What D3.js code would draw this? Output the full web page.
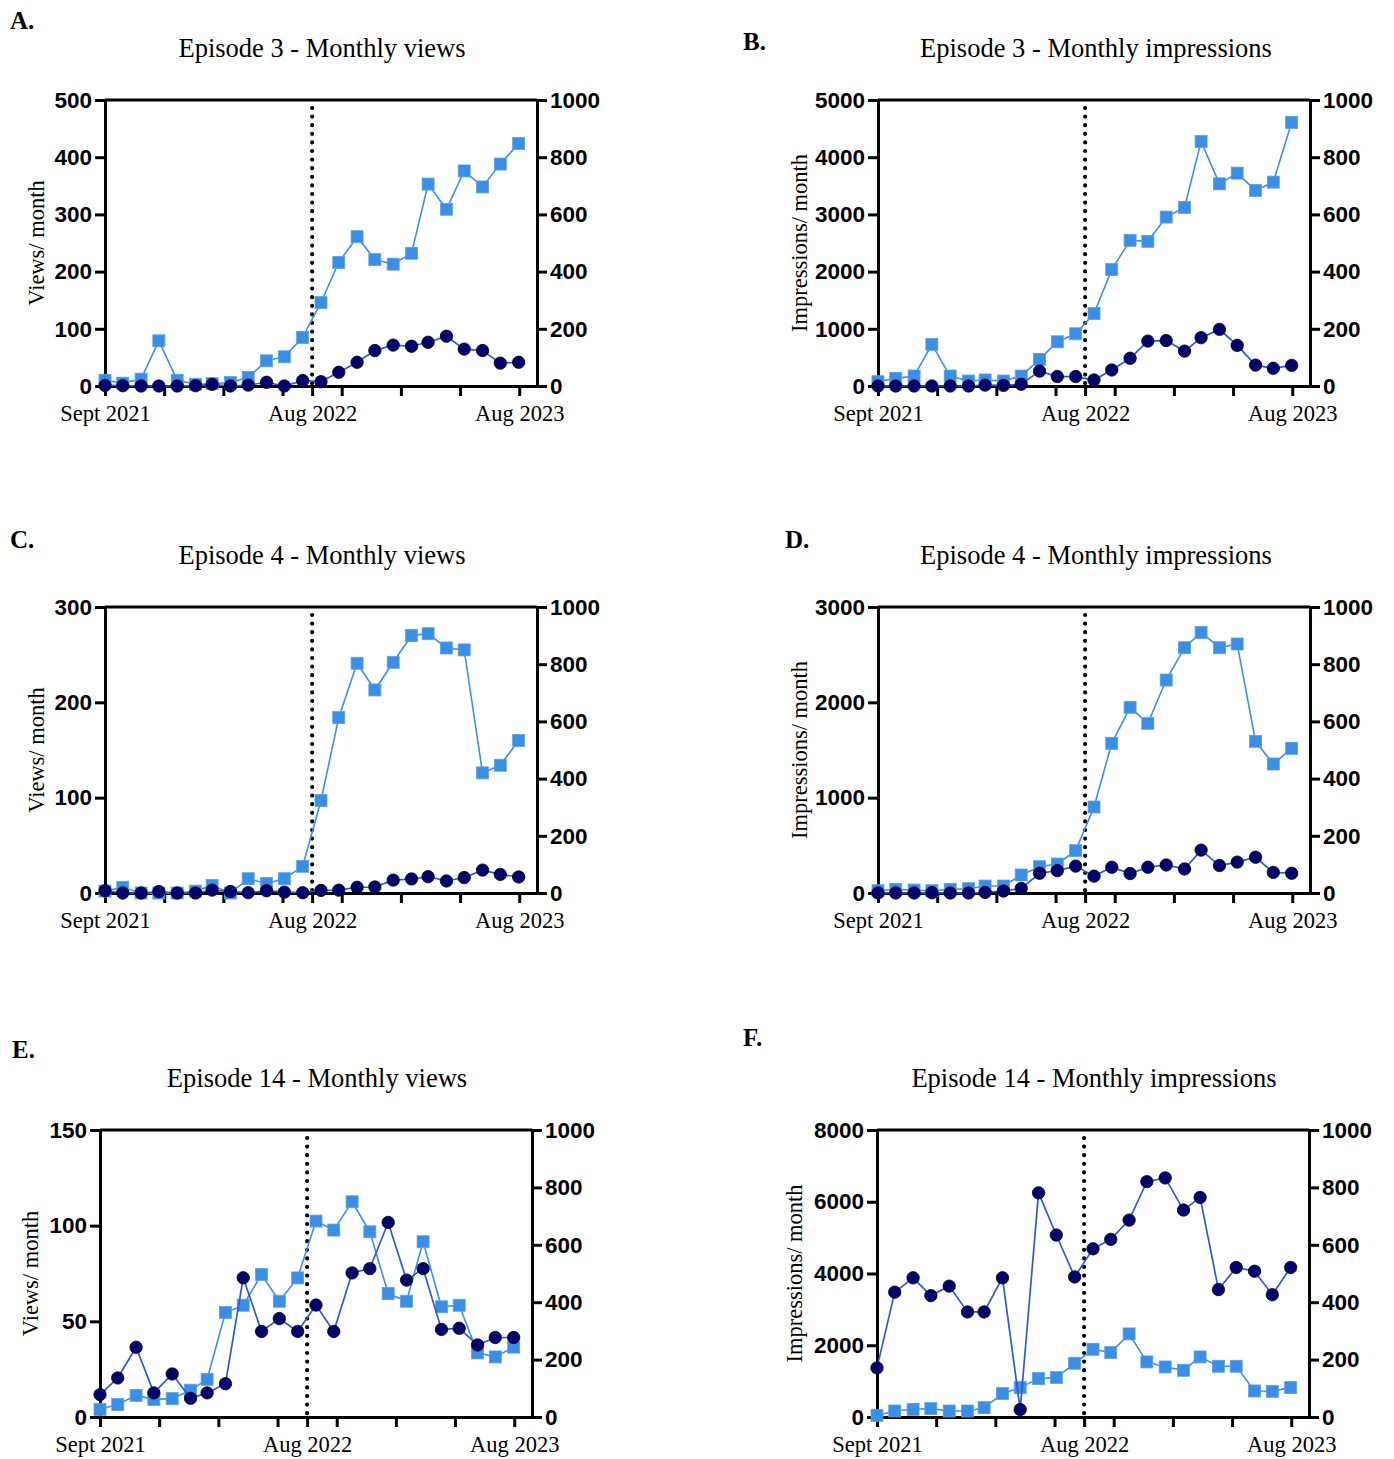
<!DOCTYPE html>
<html>
<head>
<meta charset="utf-8">
<script src="https://cdn.jsdelivr.net/npm/d3@7"></script>
<style>
  body { margin: 0; background: #fff; }
</style>
</head>
<body>
<svg id="fig" width="1394" height="1459"></svg>
<script>
// months Sept 2021 .. Aug 2023
const months = ["2021-09-01","2021-10-01","2021-11-01","2021-12-01","2022-01-01","2022-02-01",
                "2022-03-01","2022-04-01","2022-05-01","2022-06-01","2022-07-01","2022-08-01",
                "2022-09-01","2022-10-01","2022-11-01","2022-12-01","2023-01-01","2023-02-01",
                "2023-03-01","2023-04-01","2023-05-01","2023-06-01","2023-07-01","2023-08-01"];

// squares -> left axis, circles -> right axis (0-1000)
const ep3ViewsSq  = [10,5,12,79,10,3,4,6,15,44,51,85,146,216,261,221,213,232,353,309,376,348,388,424];
const ep3ViewsCi  = [2,1,0,0,0,1,6,0,3,13,0,19,15,48,83,124,143,139,153,174,129,124,80,83];
const ep3ImprSq   = [75,134,174,727,174,87,105,87,174,465,773,913,1267,2035,2547,2529,2953,3122,4273,3535,3721,3419,3564,4605];
const ep3ImprCi   = [0,0,0,0,0,0,3,2,6,52,33,33,21,56,97,157,159,122,169,198,142,73,62,72];
const ep4ViewsSq  = [2,6,0,0,0,2,8,0,15,10,15,28,97,184,241,213,242,270,272,257,255,126,134,160];
const ep4ViewsCi  = [8,0,0,5,0,0,10,5,1,8,3,1,9,10,20,21,45,49,57,42,54,80,65,56];
const ep4ImprSq   = [24,38,31,24,38,45,73,73,189,276,304,444,902,1570,1948,1780,2234,2573,2734,2573,2612,1591,1353,1517];
const ep4ImprCi   = [0,0,0,1,0,0,2,7,16,69,78,94,59,90,68,90,98,84,150,96,108,125,72,69];
const ep14ViewsSq = [4,6.5,11.3,9.2,9.6,14,19.7,54.6,58.4,74.5,60.5,72.7,102.4,97.7,112.5,96.8,64.5,60.5,91.6,57.6,58.4,33.5,31.4,36.5];
const ep14ViewsCi = [78,136,243,84,150,65,84,116,485,298,343,298,390,298,502,517,678,477,517,305,309,251,277,277];
const ep14ImprSq  = [47,167,214,233,167,167,260,651,819,1070,1098,1498,1888,1795,2316,1535,1395,1302,1674,1414,1414,726,716,819];
const ep14ImprCi  = [171,435,485,423,456,366,366,485,26,781,634,488,586,619,686,820,833,721,765,444,521,508,426,521];

const rightTicks = [0,200,400,600,800,1000];
const xTickDays  = [0,100,200,300,350,400,500,600,700];
const xLabels    = {0: "Sept 2021", 350: "Aug 2022", 700: "Aug 2023"};

const panels = [
  {letter:"A.", lx:10, ly:29, title:"Episode 3 - Monthly views", tx:322, ty:57, ylab:"Views/ month", yoff:61,
   yTicks:[0,100,200,300,400,500], sq:ep3ViewsSq, ci:ep3ViewsCi, left:105, right:537, top:100, bottom:386},
  {letter:"B.", lx:743, ly:50, title:"Episode 3 - Monthly impressions", tx:1096, ty:57, ylab:"Impressions/ month", yoff:71,
   yTicks:[0,1000,2000,3000,4000,5000], sq:ep3ImprSq, ci:ep3ImprCi, left:878, right:1310, top:100, bottom:386},
  {letter:"C.", lx:10, ly:548, title:"Episode 4 - Monthly views", tx:322, ty:564, ylab:"Views/ month", yoff:61,
   yTicks:[0,100,200,300], sq:ep4ViewsSq, ci:ep4ViewsCi, left:105, right:537, top:607, bottom:893},
  {letter:"D.", lx:785, ly:548, title:"Episode 4 - Monthly impressions", tx:1096, ty:564, ylab:"Impressions/ month", yoff:71,
   yTicks:[0,1000,2000,3000], sq:ep4ImprSq, ci:ep4ImprCi, left:878, right:1310, top:607, bottom:893},
  {letter:"E.", lx:12, ly:1058, title:"Episode 14 - Monthly views", tx:317, ty:1087, ylab:"Views/ month", yoff:62,
   yTicks:[0,50,100,150], sq:ep14ViewsSq, ci:ep14ViewsCi, left:100, right:532, top:1130, bottom:1417},
  {letter:"F.", lx:743, ly:1046, title:"Episode 14 - Monthly impressions", tx:1094, ty:1087, ylab:"Impressions/ month", yoff:75,
   yTicks:[0,2000,4000,6000,8000], sq:ep14ImprSq, ci:ep14ImprCi, left:877, right:1309, top:1130, bottom:1417}
];

const svg = d3.select("#fig");
const parse = d3.utcParse("%Y-%m-%d");
const start = parse("2021-09-01");
const end = parse("2023-09-01");
const dates = months.map(parse);

const sqColor = "#3a8ee4";
const sqLine = "#3f8fe6";
const ciColor = "#03036b";
const ciLine = "#2d5ad8";
const serif = "'Liberation Serif', 'Times New Roman', serif";
const sans = "'Liberation Sans', Arial, sans-serif";

function styleAxis(g) {
  g.select(".domain").attr("stroke", "#000").attr("stroke-width", 3);
  g.selectAll(".tick line").attr("stroke", "#000").attr("stroke-width", 3);
}

function drawPanel(p) {
  const g = svg.append("g");

  g.append("text").attr("x", p.lx).attr("y", p.ly)
    .attr("font-family", serif).attr("font-weight", "bold").attr("font-size", 25)
    .text(p.letter);

  g.append("text").attr("x", p.tx).attr("y", p.ty).attr("text-anchor", "middle")
    .attr("font-family", serif).attr("font-size", 26.5)
    .text(p.title);

  const x = d3.scaleUtc().domain([start, end]).range([p.left, p.right]);
  const yL = d3.scaleLinear().domain([0, d3.max(p.yTicks)]).range([p.bottom, p.top]);
  const yR = d3.scaleLinear().domain([0, 1000]).range([p.bottom, p.top]);

  // top frame line
  g.append("line").attr("x1", p.left).attr("x2", p.right).attr("y1", p.top).attr("y2", p.top)
    .attr("stroke", "#000").attr("stroke-width", 3);

  const xAxis = g.append("g").attr("transform", `translate(0,${p.bottom})`)
    .call(d3.axisBottom(x)
      .tickValues(xTickDays.map(d => d3.utcDay.offset(start, d)))
      .tickSize(10).tickSizeOuter(0).tickPadding(7)
      .tickFormat((d, i) => xLabels[xTickDays[i]] || ""));
  styleAxis(xAxis);
  xAxis.selectAll(".tick text").attr("font-family", serif).attr("font-size", 22.5).attr("fill", "#000")
    .attr("dy", "0.8em");

  const yAxisL = g.append("g").attr("transform", `translate(${p.left},0)`)
    .call(d3.axisLeft(yL).tickValues(p.yTicks).tickFormat(d3.format("d"))
      .tickSize(10).tickSizeOuter(0).tickPadding(3));
  styleAxis(yAxisL);
  yAxisL.selectAll(".tick text").attr("font-family", sans).attr("font-weight", "bold")
    .attr("font-size", 22.5).attr("fill", "#000");

  const yAxisR = g.append("g").attr("transform", `translate(${p.right},0)`)
    .call(d3.axisRight(yR).tickValues(rightTicks).tickFormat(d3.format("d"))
      .tickSize(10).tickSizeOuter(0).tickPadding(3));
  styleAxis(yAxisR);
  yAxisR.selectAll(".tick text").attr("font-family", sans).attr("font-weight", "bold")
    .attr("font-size", 22.5).attr("fill", "#000");

  // y axis title
  g.append("text")
    .attr("transform", `translate(${p.left - p.yoff},${(p.top + p.bottom) / 2}) rotate(-90)`)
    .attr("text-anchor", "middle").attr("font-family", serif).attr("font-size", 22.5)
    .text(p.ylab);

  // dotted divider at Aug 2022
  const xd = x(d3.utcDay.offset(start, 350));
  g.append("line").attr("x1", xd).attr("x2", xd).attr("y1", p.top + 8).attr("y2", p.bottom)
    .attr("stroke", "#000").attr("stroke-width", 4.2).attr("stroke-linecap", "round")
    .attr("stroke-dasharray", "0,8.6");

  // squares series (left axis)
  const sqData = dates.map((d, i) => ({d, v: p.sq[i]}));
  g.append("path").datum(sqData)
    .attr("fill", "none").attr("stroke", sqLine).attr("stroke-width", 1.6)
    .attr("d", d3.line().x(e => x(e.d)).y(e => yL(e.v)));
  g.selectAll(".sq").data(sqData).enter().append("rect")
    .attr("class", "sq")
    .attr("x", e => x(e.d) - 6).attr("y", e => yL(e.v) - 6)
    .attr("width", 12).attr("height", 12)
    .attr("fill", sqColor).attr("stroke", "#5aa2ea").attr("stroke-width", 0.8);

  // circles series (right axis)
  const ciData = dates.map((d, i) => ({d, v: p.ci[i]}));
  g.append("path").datum(ciData)
    .attr("fill", "none").attr("stroke", ciLine).attr("stroke-width", 1.7)
    .attr("d", d3.line().x(e => x(e.d)).y(e => yR(e.v)));
  g.selectAll(".ci").data(ciData).enter().append("circle")
    .attr("class", "ci")
    .attr("cx", e => x(e.d)).attr("cy", e => yR(e.v)).attr("r", 6.2)
    .attr("fill", ciColor).attr("stroke", "#000022").attr("stroke-width", 0.8);
}

panels.forEach(drawPanel);
</script>
</body>
</html>
